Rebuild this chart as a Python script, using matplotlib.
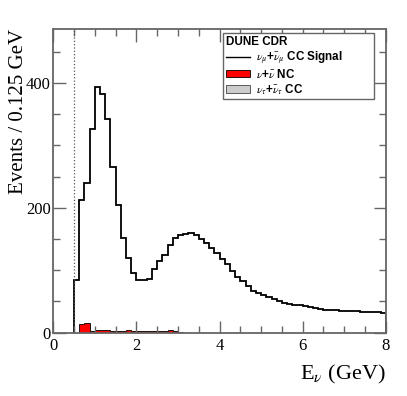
import numpy as np
import matplotlib
matplotlib.use("Agg")
import matplotlib.pyplot as plt
from matplotlib.lines import Line2D
from matplotlib.patches import Patch
from matplotlib.ticker import MultipleLocator

plt.rcParams['font.family'] = ['Liberation Serif', 'DejaVu Serif']
plt.rcParams['mathtext.fontset'] = 'stix'

# histogram binning (GeV)
bin_lo = 0.5
bin_w = 0.125

# nu_mu + nu_mu-bar CC signal, events per bin
signal = [85, 213, 240, 326, 393, 382, 342, 266, 205, 152, 119, 96,
          84, 84, 86, 102, 114, 125, 141, 151, 156, 158, 160, 156,
          150, 143.5, 135.5, 127.5, 118, 110, 98, 89, 82, 75, 67, 63.5,
          61, 57, 54, 50,
          48, 46.5, 45, 43.5, 42, 40.5, 39, 38, 37, 36, 35.5, 35,
          34.5, 34, 34, 33.5, 33.5, 33.5, 33, 32]

# NC background
nc = [0, 14, 16, 3, 5, 5, 3.5, 3, 3, 3, 4.5, 3,
      2.5, 2, 2, 2.5, 2, 2.5, 4, 2.5, 1.5] + [0] * 39

# nu_tau CC background (not visible at this scale)
nutau = [0] * 60

edges = bin_lo + bin_w * np.arange(len(signal) + 1)

fig = plt.figure(figsize=(4.07, 3.96), dpi=100)
ax = fig.add_axes([0.131, 0.160, 0.817, 0.766])

ax.stairs(nutau, edges, fill=True, facecolor='#cccccc', edgecolor='#444444', lw=0.6)
ax.stairs(nc, edges, fill=True, facecolor='red', edgecolor='black', lw=0.6)
ax.stairs(signal, edges, color='black', lw=1.3)
ax.axvline(0.5, color='#555555', ls=':', lw=0.9)

ax.set_xlim(0, 8)
ax.set_ylim(0, 486)

ax.xaxis.set_major_locator(MultipleLocator(2))
ax.xaxis.set_minor_locator(MultipleLocator(0.5))
ax.yaxis.set_major_locator(MultipleLocator(200))
ax.yaxis.set_minor_locator(MultipleLocator(50))
ax.tick_params(which='both', direction='in', top=True, right=True,
               color='#666666', width=1.0, labelsize=12)
ax.tick_params(which='major', length=9)
ax.tick_params(which='minor', length=5)
ax.tick_params(axis='x', pad=4)
ax.tick_params(axis='y', pad=2)
for s in ax.spines.values():
    s.set_color('#666666')
    s.set_linewidth(1.3)

ax.set_xlabel(r'E$_{\nu}$ (GeV)', fontsize=16, loc='right', labelpad=6)
ax.set_ylabel('Events / 0.125 GeV', fontsize=15, loc='top', labelpad=-2)

handles = [Line2D([], [], color='black', lw=1.0),
           Patch(facecolor='red', edgecolor='black', lw=0.6),
           Patch(facecolor='#cccccc', edgecolor='#444444', lw=0.6)]
labels = [r'$\nu_\mu$+$\bar{\nu}_\mu$ CC Signal',
          r'$\nu$+$\bar{\nu}$ NC',
          r'$\nu_\tau$+$\bar{\nu}_\tau$ CC']
leg = ax.legend(handles, labels, title='DUNE CDR', alignment='left',
                loc='upper left', bbox_to_anchor=(0.51, 0.782, 0.454, 0.206),
                mode='expand',
                prop={'family': 'Liberation Sans', 'weight': 'bold', 'size': 8.4},
                title_fontproperties={'family': 'Liberation Sans', 'weight': 'bold', 'size': 8.4},
                fancybox=False, framealpha=1, edgecolor='#666666',
                handlelength=2.1, handleheight=0.6, labelspacing=0.12,
                borderpad=0.25, handletextpad=0.45, borderaxespad=0)
leg.get_frame().set_linewidth(1.0)

fig.savefig('out.png', dpi=100)
